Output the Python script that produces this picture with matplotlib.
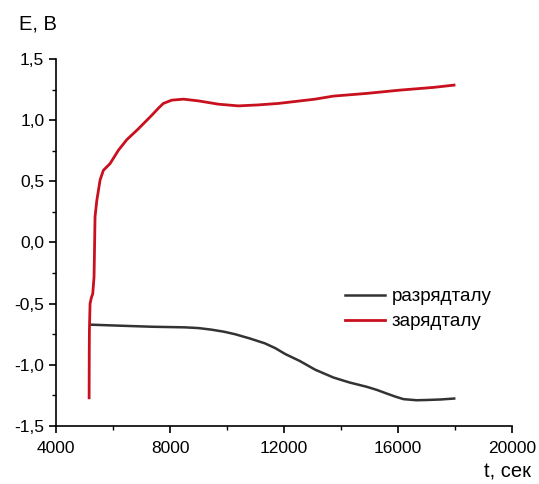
import numpy as np
import matplotlib.pyplot as plt
from matplotlib.ticker import FixedLocator, MultipleLocator, FuncFormatter

plt.rcParams['font.family'] = ['Liberation Sans', 'DejaVu Sans']

# discharge curve (разрядталу)
t_dis = [5200, 6190, 7360, 8530, 9000, 9460, 9900, 10280, 10800, 11330, 11700, 12040,
         12560, 13090, 13730, 14300, 14900, 15250, 15600, 15900, 16190, 16650, 17000,
         17480, 17970]
e_dis = [-0.672, -0.68, -0.689, -0.694, -0.7, -0.713, -0.73, -0.75, -0.785, -0.825, -0.865, -0.912,
         -0.97, -1.04, -1.104, -1.145, -1.18, -1.205, -1.235, -1.26, -1.281, -1.29, -1.288,
         -1.284, -1.276]

# charge curve (зарядталу)
t_ch = [5160, 5165, 5170, 5193, 5240, 5287, 5333, 5350, 5368, 5428, 5544, 5660,
        5895, 6187, 6480, 6890, 7357, 7600, 7765, 8060, 8470, 8995, 9695, 10397, 11100,
        11800, 12500, 13088, 13730, 14900, 16070, 17240, 17965]
e_ch = [-1.27, -0.9, -0.72, -0.50, -0.45, -0.42, -0.28, -0.05, 0.21, 0.34, 0.51, 0.59,
        0.645, 0.754, 0.84, 0.93, 1.04, 1.1, 1.137, 1.164, 1.172, 1.158, 1.131, 1.117, 1.125,
        1.137, 1.156, 1.172, 1.197, 1.219, 1.246, 1.268, 1.287]

x_ticks = [4000, 8000, 12000, 16000, 20000]
y_ticks = [-1.5, -1.0, -0.5, 0.0, 0.5, 1.0, 1.5]

fig = plt.figure(figsize=(5.39, 4.84), dpi=100)
ax = fig.add_axes([0.104, 0.12, 0.846, 0.758])

ax.plot(t_dis, e_dis, color='#333333', lw=1.8, label='разрядталу')
ax.plot(t_ch, e_ch, color='#c8101e', lw=2.0, label='зарядталу')

ax.set_xlim(4000, 20000)
ax.set_ylim(-1.5, 1.5)
ax.xaxis.set_major_locator(FixedLocator(x_ticks))
ax.xaxis.set_minor_locator(MultipleLocator(2000))
ax.yaxis.set_major_locator(FixedLocator(y_ticks))
ax.yaxis.set_minor_locator(MultipleLocator(0.25))
ax.yaxis.set_major_formatter(FuncFormatter(lambda v, p: f'{v:.1f}'.replace('.', ',').replace('−', '-')))

for s in ['top', 'right']:
    ax.spines[s].set_visible(False)
for s in ['left', 'bottom']:
    ax.spines[s].set_linewidth(1.2)
ax.tick_params(which='major', direction='out', length=5, width=1.2, labelsize=12.5)
ax.tick_params(axis='x', which='major', pad=6)
ax.tick_params(which='minor', direction='out', length=3, width=1.0)

fig.text(0.035, 0.95, 'E, B', fontsize=14.5, ha='left', va='center')
fig.text(0.985, 0.024, 't, сек', fontsize=14.5, ha='right', va='center')

ax.legend(loc='upper left', bbox_to_anchor=(0.634, 0.375), frameon=False, fontsize=13.5,
          handlelength=2.13, handletextpad=0.37, labelspacing=0.4, borderaxespad=0,
          borderpad=0)

fig.savefig('out.png', dpi=100)
